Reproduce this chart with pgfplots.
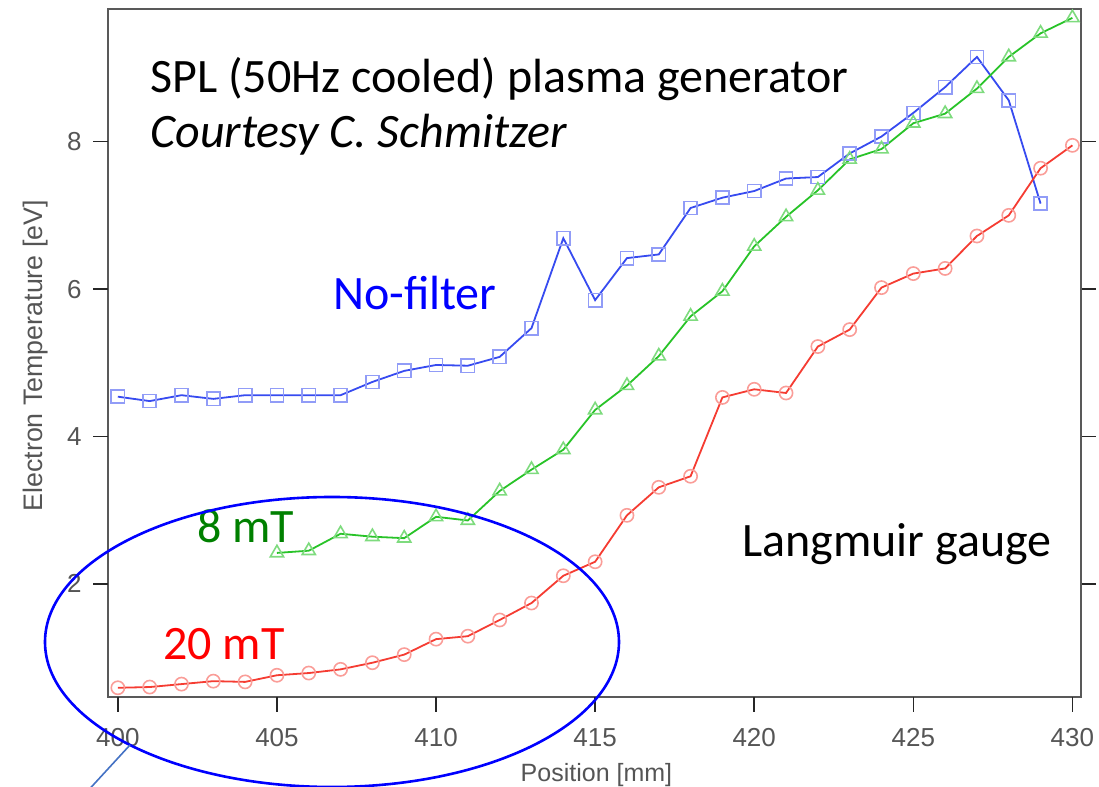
\documentclass[border=0pt]{standalone}
\usepackage{fontspec}
\setmainfont{Carlito}
\newfontfamily\tickfont{Liberation Sans}
\usepackage{pgfplots}
\pgfplotsset{compat=1.18}
\definecolor{lblue}{RGB}{55,75,240}
\definecolor{lgreen}{RGB}{40,195,40}
\definecolor{lred}{RGB}{245,60,50}
\definecolor{dgreen}{RGB}{0,128,0}
\definecolor{steel}{RGB}{68,114,196}
\definecolor{axgray}{RGB}{85,85,85}
\begin{document}
\begin{tikzpicture}
\path[use as bounding box] (-54pt,-45pt) rectangle (495.5pt,348.5pt);
\begin{axis}[
  at={(0,0)}, anchor=south west,
  scale only axis, width=486.5pt, height=344pt,
  xmin=399.69, xmax=430.27, ymin=0.465, ymax=9.80,
  xtick={400,405,...,430}, ytick={2,4,6,8},
  xtick pos=left, ytick pos=both, yticklabel pos=left,
  tick align=inside, major tick length=-7.5pt,
  tick style={black!85, line width=0.8pt},
  axis line style={black!65, line width=0.8pt},
  /pgf/number format/assume math mode=true,
  /pgf/number format/1000 sep={},
  ticklabel style={font=\tickfont\fontsize{13}{13}\selectfont, text=axgray},
  xticklabel style={anchor=base, yshift=-25pt},
  yticklabel style={anchor=east, inner sep=0pt, xshift=-13pt},
  every axis x label/.style={at={(axis description cs:0.502,0)}, anchor=base, yshift=-42.5pt},
  every axis y label/.style={at={(axis description cs:-0.0678,0.496)}, rotate=90, anchor=base},
  xlabel style={font=\tickfont\fontsize{12.5}{13}\selectfont, text=axgray},
  ylabel style={font=\tickfont\fontsize{13.4}{14}\selectfont, text=axgray},
  xlabel={Position [mm]},
  ylabel={Electron Temperature [eV]},
  clip=false,
]
\addplot[lblue, line width=0.9pt, mark=square, mark size=3.3pt,
  mark options={draw=lblue!55, line width=0.8pt, fill=none}] coordinates {
(400,4.54) (401,4.48) (402,4.56) (403,4.51) (404,4.56) (405,4.56) (406,4.56)
(407,4.56) (408,4.74) (409,4.89) (410,4.97) (411,4.96) (412,5.08) (413,5.47)
(414,6.69) (415,5.85) (416,6.42) (417,6.47) (418,7.10) (419,7.24) (420,7.33)
(421,7.50) (422,7.52) (423,7.84) (424,8.07) (425,8.39) (426,8.74) (427,9.15)
(428,8.56) (429,7.16)};
\addplot[lgreen, line width=0.9pt, mark=triangle, mark size=3.8pt,
  mark options={draw=lgreen!60, line width=0.8pt, fill=none}] coordinates {
(405,2.42) (406,2.45) (407,2.68) (408,2.64) (409,2.62) (410,2.91) (411,2.86)
(412,3.26) (413,3.55) (414,3.82) (415,4.36) (416,4.69) (417,5.09) (418,5.63)
(419,5.97) (420,6.58) (421,6.98) (422,7.34) (423,7.76) (424,7.90) (425,8.25)
(426,8.38) (427,8.72) (428,9.15) (429,9.47) (430,9.68)};
\addplot[lred, line width=0.9pt, mark=o, mark size=3.3pt,
  mark options={draw=lred!50, line width=0.8pt, fill=none}] coordinates {
(400,0.59) (401,0.60) (402,0.64) (403,0.68) (404,0.67) (405,0.76) (406,0.79)
(407,0.84) (408,0.93) (409,1.04) (410,1.25) (411,1.29) (412,1.51) (413,1.74)
(414,2.11) (415,2.30) (416,2.93) (417,3.31) (418,3.46) (419,4.53) (420,4.64)
(421,4.59) (422,5.22) (423,5.45) (424,6.02) (425,6.21) (426,6.28) (427,6.72)
(428,7.00) (429,7.64) (430,7.95)};
\end{axis}
% tick marks on the left and bottom sides
\begin{scope}[black!85, line width=0.8pt]
\foreach \x in {4.93,84.48,164.03,243.57,323.12,402.67,482.22}
  \draw (\x pt,0pt) -- (\x pt,-7.5pt);
\foreach \y in {56.57,130.27,203.97,277.67}
  \draw (0pt,\y pt) -- (-7.5pt,\y pt);
\end{scope}
\begin{scope}[every node/.style={inner sep=0pt, anchor=base west, font=\fontsize{24}{28}\selectfont}]
\node at (21pt,302pt) {SPL (50Hz cooled) plasma generator};
\node at (21pt,274.5pt) {\itshape Courtesy C. Schmitzer};
\node[text=blue] at (112.5pt,193.5pt) {No-filter};
\node[text=dgreen] at (44.5pt,77pt) {8 mT};
\node[text=red] at (27.5pt,18.5pt) {20 mT};
\node at (317pt,70pt) {Langmuir gauge};
\end{scope}
\draw[blue, line width=1.3pt] (112pt,27.5pt) ellipse [x radius=143.5pt, y radius=72.5pt];
\draw[steel, line width=0.8pt] (11pt,-24pt) -- (-12pt,-49pt);
\end{tikzpicture}
\end{document}
